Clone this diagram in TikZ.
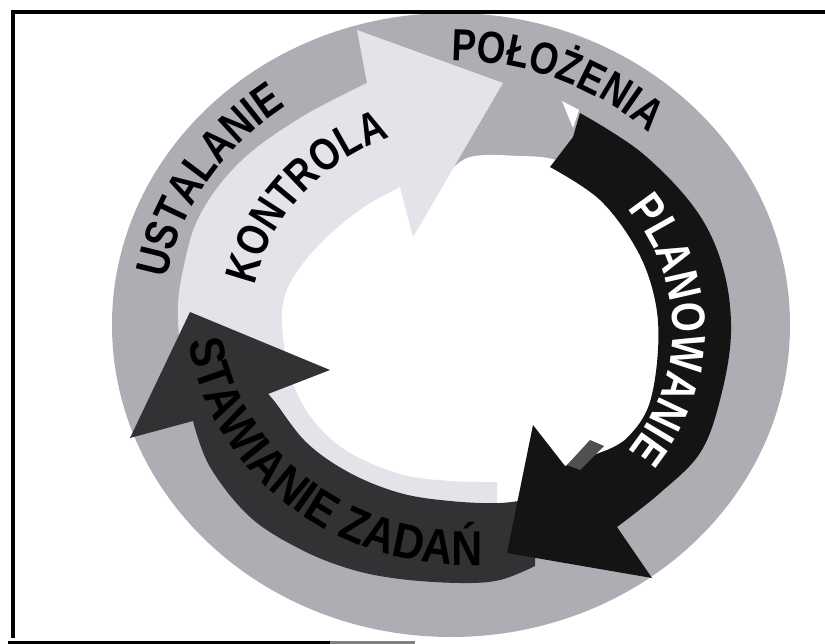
\documentclass[tikz,border=0pt]{standalone}
\usepackage{fontspec}
\setmainfont{Liberation Sans}
\newfontfamily\arcfont{Liberation Sans}[FakeStretch=0.82]
\newfontfamily\arcfontwide{Liberation Sans}[FakeStretch=0.88]
\usetikzlibrary{decorations.text}
\definecolor{ringgrey}{RGB}{172,174,179}
\definecolor{lightband}{RGB}{227,228,233}
\definecolor{planblack}{RGB}{20,20,20}
\definecolor{stawgrey}{RGB}{50,50,52}
\definecolor{stepgrey}{RGB}{80,80,82}
\begin{document}
\begin{tikzpicture}[x=1pt,y=-1pt,
  frameline/.style={line width=4.5pt,black}]
\useasboundingbox (0,0) rectangle (825,644);
\fill[white] (0,0) rectangle (825,644);
% grey ring background
\fill[ringgrey] (451,325) ellipse [x radius=339, y radius=312];
% white centre
\fill[white] plot[smooth cycle, tension=0.6] coordinates {
  (430,178) (470,157) (520,156) (556,160) (605,180) (665,235) (695,330)
  (682,440) (632,505) (560,532) (500,542) (420,527) (330,497) (258,440)
  (232,350) (248,250) (300,172) (362,148)};
% KONTROLA arrow (light)
\fill[lightband] (497,482) -- plot[smooth, tension=0.6] coordinates {
  (497,482) (450,481) (400,474) (350,453) (318,426) (296,391) (284,345)
  (283,303) (298,270) (328,236) (364,207) (400,187)}
  -- (413,237) -- (503,83) -- (357,30) -- (367,83)
  -- plot[smooth, tension=0.6] coordinates {
  (367,83) (300,118) (240,162) (200,215) (183,270) (178,320) (188,385)
  (222,440) (265,478) (325,515) (390,540) (455,547) (497,547)} -- cycle;
% STAWIANIE ZADAN arrow
\fill[stawgrey] (535,498) -- plot[smooth, tension=0.6] coordinates {
  (535,498) (500,503) (450,501) (400,493) (350,473) (307,443) (275,402) (268,394)}
  -- (330,370) -- (190,312) -- (130,438) -- (193,421)
  -- plot[smooth, tension=0.6] coordinates {
  (193,421) (210,467) (250,517) (300,549) (350,569) (400,579) (460,583)
  (500,580) (535,566)} -- cycle;
% PLANOWANIE arrow
\fill[planblack] (580,113) -- (573,137) -- (550,167)
  -- plot[smooth, tension=0.6] coordinates {
  (550,167) (600,200) (637,250) (655,300) (658,350) (649,405) (628,437) (607,450)}
  -- (565,466) -- (533,425) -- (507,553) -- (652,578) -- (617,527)
  -- plot[smooth, tension=0.6] coordinates {
  (617,527) (660,493) (700,453) (720,400) (731,333) (723,268) (696,210)
  (642,153) (580,113)} -- cycle;
\fill[stepgrey] (567,465) -- (590,440) -- (604,446) -- (580,470) -- cycle;
\fill[white] (562,101) -- (579,110) -- (573,128) -- cycle;
% texts
\path[decorate, decoration={text along path, text align=center, text color=black,
  text={|\arcfont\bfseries\fontsize{46}{46}\selectfont|USTALANIE}}]
  plot[domain=0:1, samples=120] ({451+289*cos(177.5-60*\x)},{325-0.92*289*sin(177.5-60*\x)});
\path[decorate, decoration={text along path, text align=center, text color=black,
  text={|\arcfont\bfseries\fontsize{45}{45}\selectfont|POŁOŻENIA}}]
  plot[domain=0:1, samples=120] ({451+287.5*cos(98-60*\x)},{325-0.92*287.5*sin(98-60*\x)});
\path[decorate, decoration={text along path, text align=center, text color=black,
  text={|\arcfont\bfseries\fontsize{45}{45}\selectfont|KONTROLA}}]
  plot[domain=0:1, samples=120] ({469+218.5*cos(170-60*\x)},{325-0.92*218.5*sin(170-60*\x)});
\path[decorate, decoration={text along path, text align=center, text color=white,
  text={|\arcfont\bfseries\fontsize{47}{47}\selectfont|PLANOWANIE}}]
  plot[domain=0:1, samples=120] ({469+203.5*cos(45-90*\x)},{330-0.95*203.5*sin(45-90*\x)});
\path[decorate, decoration={text along path, text align=center, text color=black,
  text={|\arcfontwide\bfseries\fontsize{49}{49}\selectfont|STAWIANIE ZADAŃ}}]
  plot[domain=0:1, samples=150] ({469+283*cos(175+110*\x)},{305-0.92*283*sin(175+110*\x)});
% frame
\draw[frameline] (13,10) -- (13,638);
\draw[frameline] (11,12) -- (825,12);
\draw[line width=3pt,black] (8,642) -- (330,642);
\draw[line width=3pt,gray] (330,642) -- (415,642);
\end{tikzpicture}
\end{document}
